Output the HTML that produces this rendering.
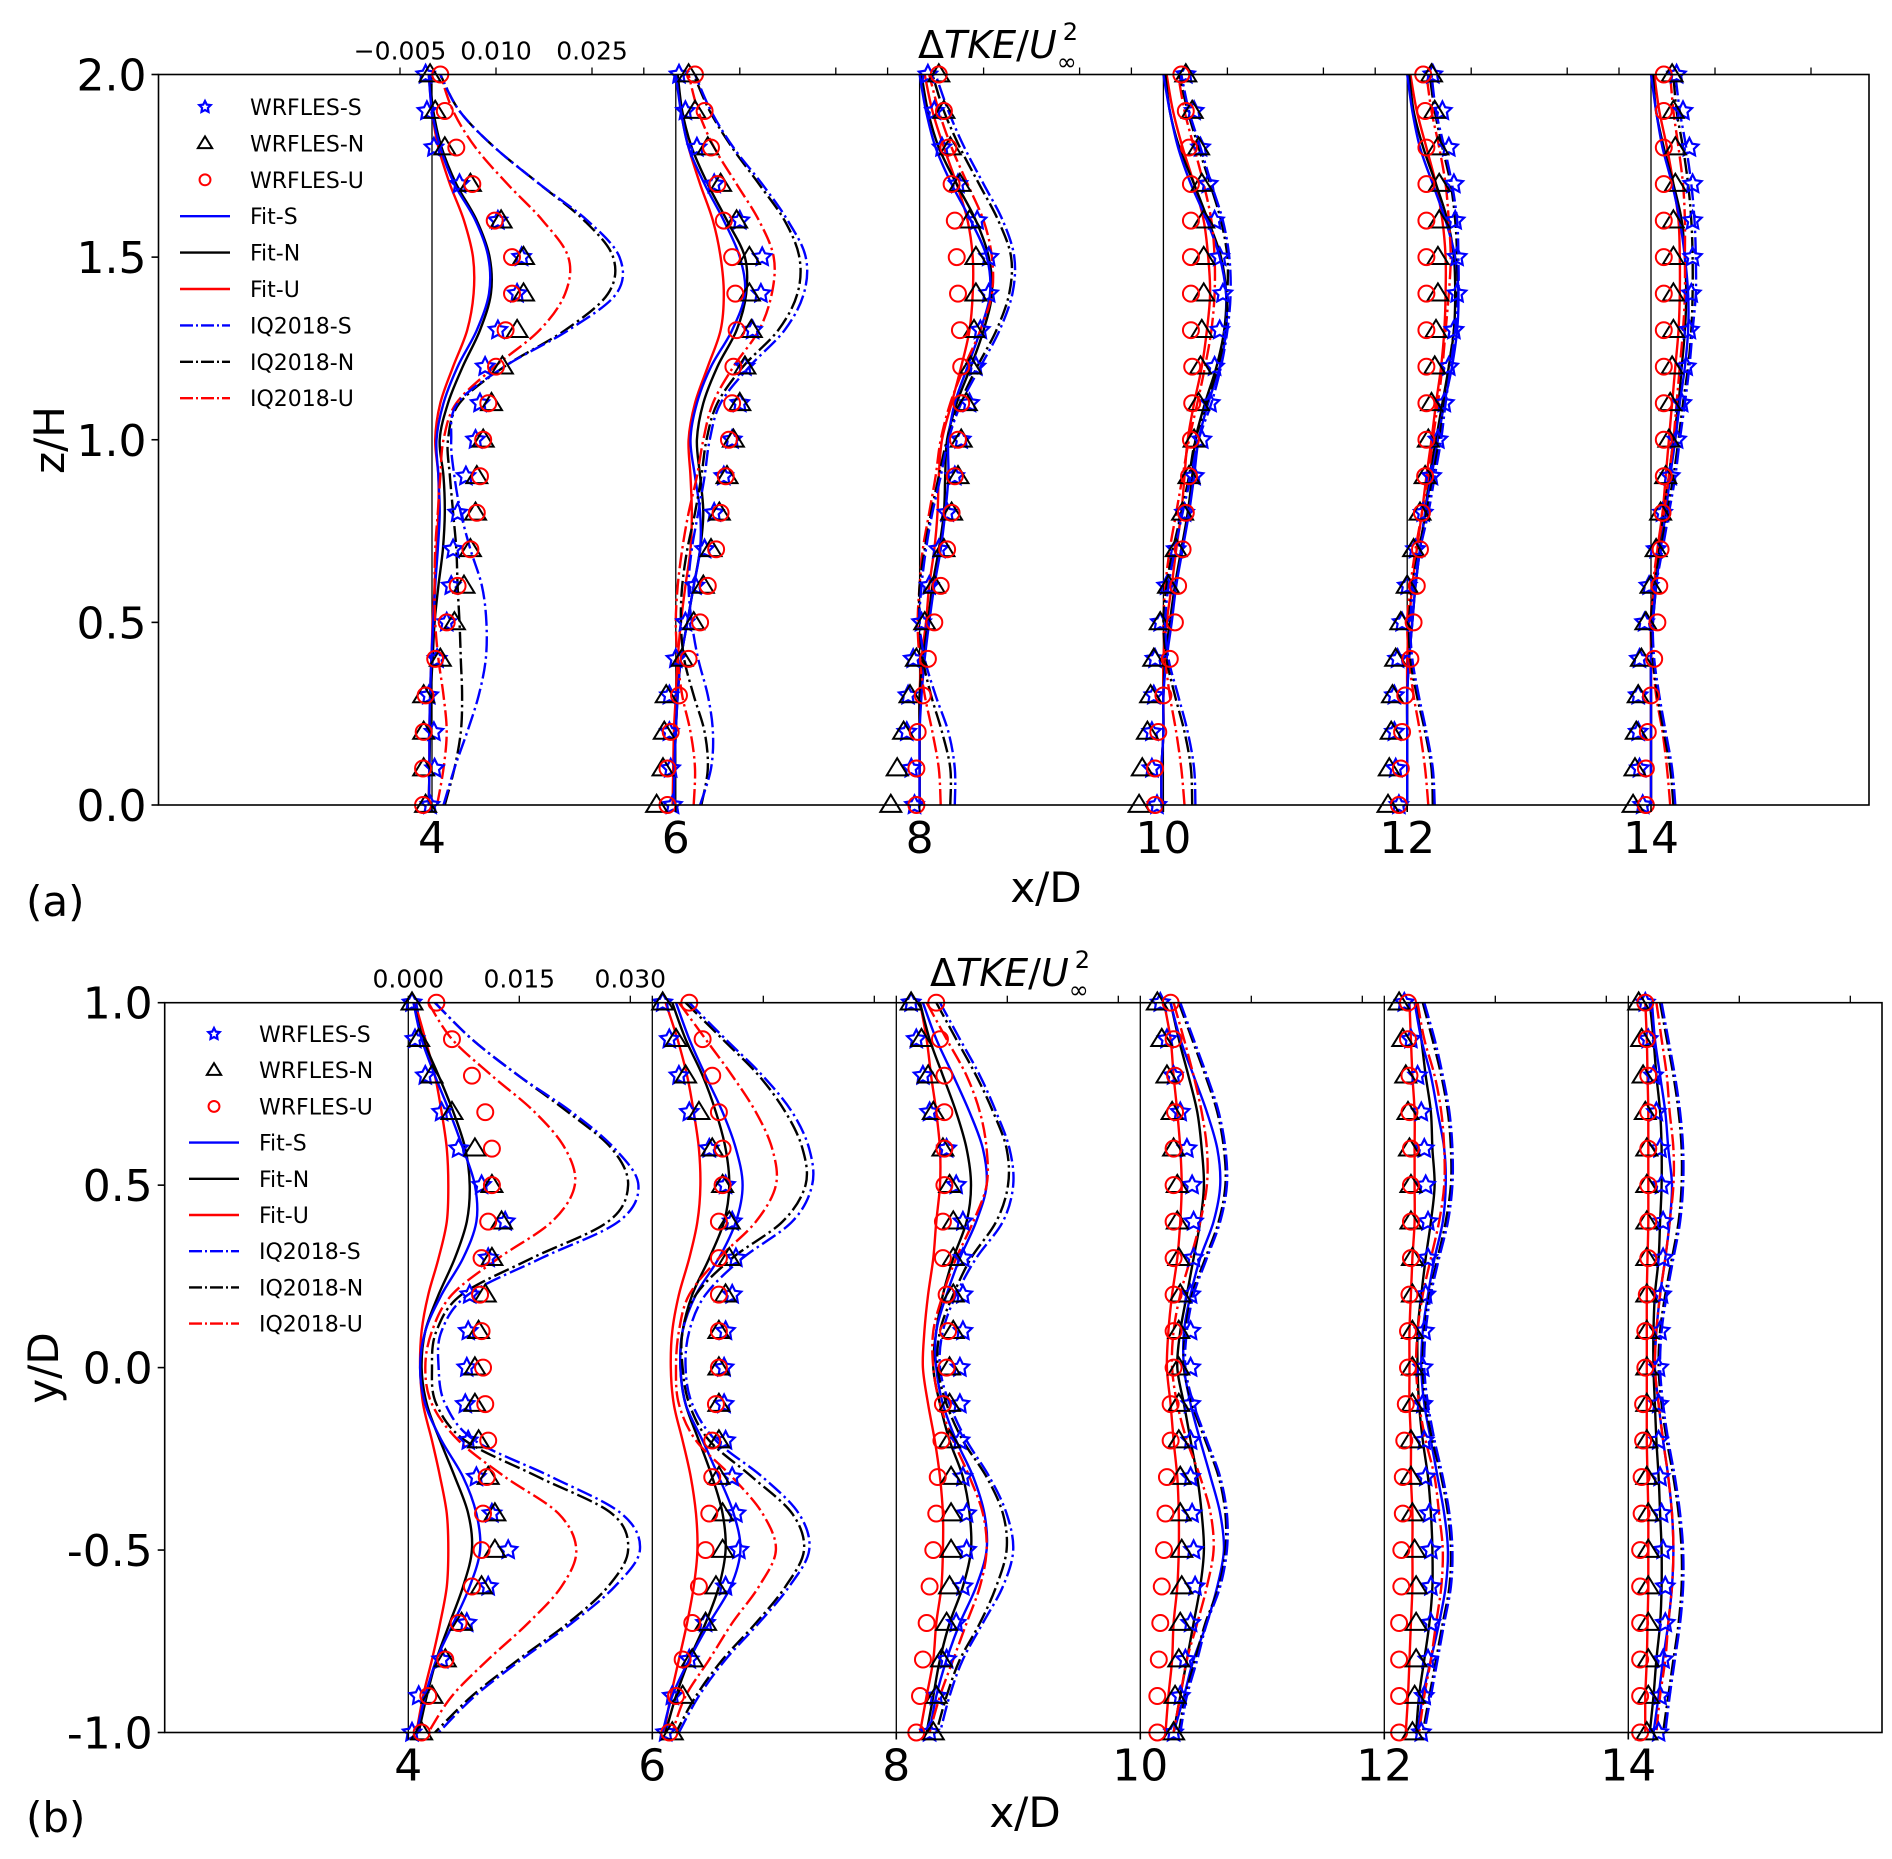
<!DOCTYPE html>
<html><head><meta charset="utf-8"><style>
html,body{margin:0;padding:0;background:#fff}
svg{display:block}
text{font-family:"DejaVu Sans","Liberation Sans",sans-serif;fill:#000}
</style></head><body>
<svg id="fig" xmlns="http://www.w3.org/2000/svg" width="1892" height="1859" viewBox="0 0 1892 1859"></svg>
<script>
// ---------- DATA (ΔTKE/U∞² in units of 1e-4) ----------
const zA = [0,0.1,0.2,0.3,0.4,0.5,0.6,0.7,0.8,0.9,1.0,1.1,1.2,1.3,1.4,1.5,1.6,1.7,1.8,1.9,2.0];
const yB = [1.0,0.9,0.8,0.7,0.6,0.5,0.4,0.3,0.2,0.1,0,-0.1,-0.2,-0.3,-0.4,-0.5,-0.6,-0.7,-0.8,-0.9,-1.0];
const stations = [4,6,8,10,12,14];
const seriesNames = ["WRFLES-S","WRFLES-N","WRFLES-U","Fit-S","Fit-N","Fit-U","IQ2018-S","IQ2018-N","IQ2018-U"];
const tickLabelsA = [-0.005,0.010,0.025];
const tickLabelsB = [0.000,0.015,0.030];
const yTicksA = [0.0,0.5,1.0,1.5,2.0];
const yTicksB = [-1.0,-0.5,0.0,0.5,1.0];

// Panel (a) x/D=4
const A4_S=[-3,4,3,-5,8,23,30,33,40,53,68,75,83,103,133,140,103,43,3,-8,-10];
const A4_N=[-10,-13,-13,-13,13,35,50,60,68,70,80,93,110,133,143,143,108,60,20,5,-3];
const A4_U=[-14,-14,-13,-10,5,23,40,60,70,75,80,88,100,115,125,125,98,63,38,20,13];
const A4_FS=[-5,-4,-4,-3,-1,2,5,9,12,10,7,18,40,70,89,88,68,35,13,0,-5];
const A4_FN=[-5,-4,-3,-2,1,4,10,17,20,18,12,25,48,75,92,90,70,38,15,2,-4];
const A4_FU=[-5,-4,-4,-3,-1,1,4,7,10,10,5,13,33,55,65,64,50,28,10,0,-5];
const A4_IS=[18,35,55,73,84,85,78,60,45,35,30,40,113,213,288,293,243,168,98,43,13];
const A4_IN=[20,35,45,47,45,43,40,38,33,28,25,43,113,208,275,283,238,168,98,43,13];
const A4_IU=[8,18,23,18,10,5,4,5,9,13,18,38,98,168,208,213,173,118,68,33,13];
// x/D=6
const A6_S=[-5,-8,-10,-10,0,15,30,45,60,75,88,100,108,120,133,135,100,60,33,15,5];
const A6_N=[-30,-20,-18,-15,10,28,43,55,68,80,90,100,108,118,115,115,95,70,50,30,20];
const A6_U=[-13,-13,-8,5,20,38,50,63,70,78,83,88,90,95,93,88,75,65,55,45,30];
const A6_FS=[-3,-2,0,3,8,18,28,38,38,30,23,33,55,88,108,100,75,45,20,8,0];
const A6_FN=[-3,-2,0,3,8,18,28,38,43,38,33,43,65,95,110,108,80,50,25,10,3];
const A6_FU=[-5,-4,-3,0,3,8,15,23,25,23,20,30,50,70,75,70,58,38,20,8,3];
const A6_IS=[38,55,58,50,35,25,20,25,35,45,53,70,115,170,200,203,175,135,90,55,30];
const A6_IN=[40,50,45,28,13,8,10,18,30,40,48,65,105,160,190,193,170,130,88,53,28];
const A6_IU=[28,30,23,10,3,0,3,10,20,33,43,58,90,130,150,153,130,95,60,35,20];
// x/D=8
const A8_S=[-8,-13,-20,-18,-10,3,15,30,43,55,65,78,88,95,108,108,90,60,35,23,13];
const A8_N=[-45,-35,-25,-15,-5,8,23,38,50,60,65,73,80,85,88,88,78,63,48,38,30];
const A8_U=[-5,-5,-3,5,13,23,33,43,50,55,60,65,65,63,60,58,55,50,45,38,30];
const A8_FS=[0,0,0,3,8,15,23,33,40,45,45,55,75,95,110,105,80,50,25,10,0];
const A8_FN=[0,0,0,0,5,13,20,30,38,40,43,58,80,100,113,108,88,58,30,13,3];
const A8_FU=[0,0,0,0,3,10,15,23,28,30,35,50,65,78,83,83,75,58,38,20,8];
const A8_IS=[55,55,45,25,8,0,3,10,20,33,45,65,95,125,145,148,130,100,70,45,25];
const A8_IN=[48,48,35,18,5,0,0,8,18,30,43,63,90,120,140,143,123,93,63,38,20];
const A8_IU=[33,30,20,8,0,-3,0,5,15,25,33,48,70,95,113,113,100,75,50,30,15];
// x/D=10
const A10_S=[-10,-18,-18,-15,-13,-5,5,20,33,48,60,73,80,88,93,88,80,70,58,48,35];
const A10_N=[-38,-33,-25,-20,-15,-5,8,20,30,40,48,55,58,60,63,63,63,60,55,45,35];
const A10_U=[-13,-13,-8,0,10,18,23,30,35,40,43,45,45,43,43,43,43,43,40,35,28];
const A10_FS=[-3,-3,0,0,5,13,20,30,40,48,55,70,88,98,98,88,68,43,23,10,0];
const A10_FN=[-3,-3,0,0,3,10,18,28,38,45,50,65,83,95,98,90,70,48,25,10,3];
const A10_FU=[-3,-3,0,0,0,5,13,20,28,33,38,48,60,68,73,70,63,48,30,15,5];
const A10_IS=[50,48,38,23,8,3,8,18,30,43,55,75,90,100,105,103,93,75,58,40,28];
const A10_IN=[45,43,33,18,5,0,5,15,28,40,50,68,85,98,100,100,90,73,55,38,25];
const A10_IU=[33,28,20,10,3,0,3,10,20,30,40,53,65,75,80,80,75,63,48,33,23];
// x/D=12
const A12_S=[-13,-18,-20,-20,-15,-8,0,13,25,38,48,58,65,73,78,78,75,73,65,55,40];
const A12_N=[-30,-28,-25,-23,-18,-10,0,10,20,28,33,38,43,45,48,48,50,50,48,43,38];
const A12_U=[-13,-10,-8,-3,5,10,15,20,23,28,30,30,30,30,30,30,30,30,30,28,25];
const A12_FS=[0,0,0,0,3,8,13,20,28,38,48,58,70,78,80,75,60,40,20,8,0];
const A12_FN=[0,0,0,0,3,8,13,20,28,35,45,55,65,73,75,73,63,45,25,10,3];
const A12_FU=[0,0,0,0,0,3,8,15,23,30,38,45,53,58,60,60,55,45,30,15,5];
const A12_IS=[43,40,30,18,8,5,10,20,33,43,53,60,68,75,80,80,78,70,58,45,38];
const A12_IN=[40,38,28,15,5,3,8,18,30,40,50,58,65,73,78,78,75,68,55,43,35];
const A12_IU=[33,28,20,10,3,0,5,13,23,33,40,48,55,60,65,68,65,60,50,38,30];
// x/D=14
const A14_S=[-13,-18,-20,-20,-18,-10,-3,8,18,30,40,48,55,60,63,65,65,65,60,50,40];
const A14_N=[-28,-25,-23,-20,-15,-8,0,8,15,23,28,30,33,35,35,35,35,38,38,35,33];
const A14_U=[-8,-8,-5,0,5,10,13,15,18,20,20,20,20,20,20,20,20,20,20,20,20];
const A14_FS=[0,0,0,0,0,3,8,15,23,30,38,45,53,58,58,53,45,33,18,8,0];
const A14_FN=[0,0,0,0,0,3,8,13,20,28,35,43,48,53,55,53,48,35,20,8,3];
const A14_FU=[0,0,0,0,0,0,5,10,18,23,28,33,38,43,45,45,43,35,25,13,5];
const A14_IS=[38,33,23,13,5,3,8,18,28,38,45,53,60,65,70,70,68,63,55,45,38];
const A14_IN=[35,30,20,10,3,0,5,15,25,35,43,50,58,63,65,65,63,58,50,40,35];
const A14_IU=[30,25,18,8,3,0,3,10,20,28,35,40,45,50,53,53,53,50,43,35,30];

// Panel (b) x/D=4  (ordered y = 1 ... -1)
const B4_S=[5,9,23,45,68,99,131,108,83,81,79,77,81,92,113,135,108,79,45,14,5];
const B4_N=[5,14,32,59,90,113,126,113,104,95,90,90,95,108,117,117,99,72,50,32,18];
const B4_U=[38,59,86,104,113,113,108,99,97,99,101,104,108,106,101,99,86,68,50,27,18];
const B4_FS=[7,18,36,56,74,90,92,74,45,23,16,23,45,74,92,97,83,61,38,23,11];
const B4_FN=[7,20,41,61,77,83,79,63,41,23,18,25,43,63,81,86,74,56,38,25,14];
const B4_FU=[9,23,36,45,52,54,52,41,27,18,16,20,32,43,52,54,52,43,32,20,11];
const B4_IS=[36,86,149,221,279,311,284,180,81,45,41,50,90,194,288,313,279,221,153,90,41];
const B4_IN=[36,86,149,216,275,297,270,167,72,38,32,38,77,176,275,297,270,216,149,86,36];
const B4_IU=[27,59,113,171,212,225,194,122,59,32,23,32,68,131,203,227,207,162,108,59,27];
// x/D=6
const B6_S=[14,23,36,50,77,99,108,113,108,99,97,97,99,108,113,117,99,72,50,27,18];
const B6_N=[14,32,45,63,81,95,104,104,99,90,90,90,90,90,95,95,86,72,54,41,27];
const B6_U=[50,68,81,90,95,95,90,90,90,90,90,86,81,81,77,72,63,54,41,32,23];
const B6_FS=[32,50,72,95,113,122,113,90,59,41,38,45,68,90,110,119,106,77,50,27,14];
const B6_FN=[27,45,68,86,99,104,97,77,54,41,38,45,63,81,95,99,90,72,50,32,18];
const B6_FU=[18,34,47,56,63,65,61,50,36,27,25,29,41,52,59,61,56,47,36,25,16];
const B6_IS=[50,99,149,189,212,216,189,122,72,50,45,54,86,149,198,212,185,144,99,63,36];
const B6_IN=[45,95,144,180,203,207,176,108,59,41,41,50,77,135,189,205,180,140,95,59,32];
const B6_IU=[36,72,108,140,162,167,140,90,50,36,32,36,59,108,149,167,144,108,77,45,27];
// x/D=8
const B8_S=[20,27,36,45,68,81,90,90,90,90,86,86,86,90,95,95,90,81,68,54,45];
const B8_N=[20,34,43,50,63,72,77,77,77,77,72,72,72,74,74,74,72,68,61,54,50];
const B8_U=[54,59,65,65,65,65,63,63,68,70,68,63,61,56,54,50,45,41,36,32,27];
const B8_FS=[36,54,77,99,117,122,108,86,68,54,54,63,81,104,119,122,108,86,68,54,45];
const B8_FN=[32,45,63,81,95,101,95,77,63,54,50,59,72,90,99,101,90,72,59,50,41];
const B8_FU=[32,41,47,54,59,59,54,50,43,38,36,43,52,59,63,63,61,54,50,41,32];
const B8_IS=[59,86,113,135,153,158,144,108,81,63,59,72,95,126,149,158,144,117,90,72,59];
const B8_IN=[54,81,108,131,149,151,135,101,77,59,56,68,90,122,144,149,135,113,86,68,54];
const B8_IU=[41,68,95,113,122,122,104,81,63,50,50,59,77,99,117,122,113,95,77,59,45];
// x/D=10
const B10_S=[27,36,45,54,63,70,72,72,68,68,68,68,68,68,70,72,74,68,61,54,45];
const B10_N=[23,29,36,43,45,50,50,52,54,52,52,52,52,54,54,56,56,54,52,47,45];
const B10_U=[41,45,47,47,45,45,45,45,45,45,45,41,41,36,34,32,29,27,25,23,23];
const B10_FS=[41,54,72,90,104,108,99,81,68,59,59,68,81,95,108,113,104,90,72,59,45];
const B10_FN=[41,52,65,77,83,86,81,72,63,54,50,59,68,77,83,86,81,72,63,54,45];
const B10_FU=[32,41,45,50,54,56,54,50,43,38,36,41,45,50,52,52,50,45,43,38,34];
const B10_IS=[54,72,90,106,115,117,108,90,72,63,61,72,90,108,117,117,108,90,77,63,54];
const B10_IN=[52,70,88,104,113,115,106,88,70,61,59,70,88,106,115,115,106,88,74,61,52];
const B10_IU=[45,59,72,83,90,90,81,68,54,45,43,50,63,81,95,99,90,77,63,54,45];
// x/D=12
const B12_S=[27,36,45,50,54,56,59,59,56,54,52,52,54,56,61,63,63,63,59,54,50];
const B12_N=[20,25,29,32,34,36,36,38,38,38,38,38,36,36,38,41,43,43,43,41,38];
const B12_U=[32,32,34,34,36,36,36,36,34,32,32,29,27,25,25,23,23,20,20,20,20];
const B12_FS=[41,50,63,72,81,83,79,68,59,52,50,54,63,72,81,86,83,74,63,52,45];
const B12_FN=[43,50,56,63,65,68,63,56,50,45,45,47,52,59,63,65,65,61,54,47,43];
const B12_FU=[34,36,38,41,41,41,41,38,36,34,34,34,36,36,38,38,38,36,34,32,29];
const B12_IS=[54,68,79,88,92,92,86,74,63,56,54,59,68,79,88,92,90,81,72,63,54];
const B12_IN=[52,65,77,86,90,90,83,72,61,54,52,56,65,77,86,90,88,79,70,61,52];
const B12_IU=[45,54,68,77,81,81,74,63,52,45,43,47,56,68,74,79,77,70,63,54,47];
// x/D=14
const B14_S=[23,27,34,38,43,45,47,47,45,43,41,41,41,43,45,47,50,50,47,43,41];
const B14_N=[14,18,20,23,25,25,25,25,25,25,25,25,25,25,27,27,27,27,27,27,25];
const B14_U=[23,25,27,27,27,27,27,27,25,23,23,20,20,18,18,16,16,16,16,16,16];
const B14_FS=[32,36,43,50,54,59,56,50,43,38,36,41,47,54,59,61,59,54,47,41,34];
const B14_FN=[29,34,38,43,45,45,43,41,36,34,34,36,38,41,43,45,45,43,38,34,29];
const B14_FU=[23,25,26,27,27,27,27,26,25,25,25,25,25,26,27,27,27,26,25,23,23];
const B14_IS=[45,54,63,70,74,74,70,61,52,45,43,47,54,63,70,74,74,70,63,56,50];
const B14_IN=[43,52,61,68,72,72,68,59,50,43,41,45,52,61,68,72,72,68,61,54,47];
const B14_IU=[38,45,52,56,61,61,56,50,43,38,36,41,47,54,59,61,59,54,50,43,38];

const dataA = {4:[A4_S,A4_N,A4_U,A4_FS,A4_FN,A4_FU,A4_IS,A4_IN,A4_IU],6:[A6_S,A6_N,A6_U,A6_FS,A6_FN,A6_FU,A6_IS,A6_IN,A6_IU],8:[A8_S,A8_N,A8_U,A8_FS,A8_FN,A8_FU,A8_IS,A8_IN,A8_IU],10:[A10_S,A10_N,A10_U,A10_FS,A10_FN,A10_FU,A10_IS,A10_IN,A10_IU],12:[A12_S,A12_N,A12_U,A12_FS,A12_FN,A12_FU,A12_IS,A12_IN,A12_IU],14:[A14_S,A14_N,A14_U,A14_FS,A14_FN,A14_FU,A14_IS,A14_IN,A14_IU]};
const dataB = {4:[B4_S,B4_N,B4_U,B4_FS,B4_FN,B4_FU,B4_IS,B4_IN,B4_IU],6:[B6_S,B6_N,B6_U,B6_FS,B6_FN,B6_FU,B6_IS,B6_IN,B6_IU],8:[B8_S,B8_N,B8_U,B8_FS,B8_FN,B8_FU,B8_IS,B8_IN,B8_IU],10:[B10_S,B10_N,B10_U,B10_FS,B10_FN,B10_FU,B10_IS,B10_IN,B10_IU],12:[B12_S,B12_N,B12_U,B12_FS,B12_FN,B12_FU,B12_IS,B12_IN,B12_IU],14:[B14_S,B14_N,B14_U,B14_FS,B14_FN,B14_FU,B14_IS,B14_IN,B14_IU]};

// ---------- RENDERING ----------
const NS="http://www.w3.org/2000/svg";
const svg=document.getElementById('fig');
function mk(tag,attrs,parent){const e=document.createElementNS(NS,tag);for(const k in attrs)e.setAttribute(k,attrs[k]);(parent||svg).appendChild(e);return e;}
const kinds=['star','tri','circ','line','line','line','dd','dd','dd'];
const colors=['#0000ff','#000','#ff0000','#0000ff','#000','#ff0000','#0000ff','#000','#ff0000'];
const DASH="16,4,2.5,4";

function smoothPath(pts){
  let d="M"+pts[0][0].toFixed(1)+","+pts[0][1].toFixed(1);
  for(let i=0;i<pts.length-1;i++){
    const p0=pts[i-1]||pts[i],p1=pts[i],p2=pts[i+1],p3=pts[i+2]||p2;
    const c1=[p1[0]+(p2[0]-p0[0])/6,p1[1]+(p2[1]-p0[1])/6];
    const c2=[p2[0]-(p3[0]-p1[0])/6,p2[1]-(p3[1]-p1[1])/6];
    d+="C"+c1[0].toFixed(1)+","+c1[1].toFixed(1)+" "+c2[0].toFixed(1)+","+c2[1].toFixed(1)+" "+p2[0].toFixed(1)+","+p2[1].toFixed(1);
  }
  return d;
}
function starPath(cx,cy,r){let d="";for(let i=0;i<10;i++){const rr=i%2?r*0.5:r;const a=-Math.PI/2+i*Math.PI/5;d+=(i?"L":"M")+(cx+rr*Math.cos(a)).toFixed(1)+","+(cy+rr*Math.sin(a)).toFixed(1);}return d+"Z";}
function drawMarker(kind,x,y,g,sz){
  let e;
  if(kind==='star'){e=mk('path',{d:starPath(x,y,sz*0.5),fill:'none',stroke:'#0000ff','stroke-width':2.2},g);}
  else if(kind==='tri'){const h=sz*0.9;e=mk('path',{d:`M${x},${y-h*0.6}L${x+sz*0.55},${y+h*0.4}L${x-sz*0.55},${y+h*0.4}Z`,fill:'none',stroke:'#000','stroke-width':2},g);}
  else {e=mk('circle',{cx:x,cy:y,r:sz*0.42,fill:'none',stroke:'#ff0000','stroke-width':2},g);}
  return e;
}

function panel(P){
  const g=mk('g',{});
  
  
  const xS=x=>P.x0+(x-4)*P.ux;
  const yS=v=>P.bottom-(v-P.vmin)/(P.vmax-P.vmin)*(P.bottom-P.top);
  const kS=v=>v*P.k;
  const clipId='clip'+P.id;
  const cp=mk('clipPath',{id:clipId},g);
  mk('rect',{x:P.left,y:P.top,width:P.right-P.left,height:P.bottom-P.top},cp);
  stations.forEach(s=>{const l=mk('line',{x1:xS(s),x2:xS(s),y1:P.top,y2:P.bottom,stroke:'#000','stroke-width':1.3},g);
    
    });
  const plot=mk('g',{'clip-path':`url(#${clipId})`},g);
  const mplot=mk('g',{},g);
  stations.forEach(s=>{
    const sets=P.data[s];
    [0,1,2].forEach(si=>{
      const mg=mk('g',{},mplot);
      
      
      sets[si].forEach((v,i)=>{drawMarker(kinds[si],xS(s)+kS(v),yS(P.coord[i]),mg,P.msz);});
    });
    [5,4,3,8,7,6].forEach(si=>{
      const pts=sets[si].map((v,i)=>[xS(s)+kS(v),yS(P.coord[i])]);
      const attrs={d:smoothPath(pts),fill:'none',stroke:colors[si],'stroke-width':2.4};
      if(kinds[si]==='dd')attrs['stroke-dasharray']=DASH;
      const p=mk('path',attrs,plot);
      
      
    });
  });
  const fr=mk('rect',{x:P.left,y:P.top,width:P.right-P.left,height:P.bottom-P.top,fill:'none',stroke:'#000','stroke-width':1.6},g);
  
  
  P.yticks.forEach(v=>{const y=yS(v);mk('line',{x1:P.left-7,x2:P.left,y1:y,y2:y,stroke:'#000','stroke-width':1.6},g);
    const t=mk('text',{x:P.left-12,y:y+16,'text-anchor':'end','font-size':44},g);t.textContent=v.toFixed(1);
    
    });
  stations.forEach(s=>{const x=xS(s);mk('line',{x1:x,x2:x,y1:P.bottom,y2:P.bottom+7,stroke:'#000','stroke-width':1.6},g);
    const t=mk('text',{x:x,y:P.bottom+48,'text-anchor':'middle','font-size':44},g);t.textContent=s;
    
    });
  stations.forEach((s,si)=>{P.topTicks.forEach(tv=>{const x=xS(s)+kS(tv*1e4);
    if(x>P.right)return;
    mk('line',{x1:x,x2:x,y1:P.top-7,y2:P.top,stroke:'#000','stroke-width':1.3},g);
    if(si===0){const t=mk('text',{x:x,y:P.top-15,'text-anchor':'middle','font-size':25},g);
      t.textContent=(tv<0?'\u2212':'')+Math.abs(tv).toFixed(3);
      
      }
  });});
  const lg=mk('g',{},g);
  
  
  seriesNames.forEach((nm,i)=>{
    const y=P.legY+i*P.legDy;
    const row=mk('g',{},lg);
    
    
    if(i<3)drawMarker(kinds[i],P.legX+25,y,row,i===0?12:13);
    else{const a={x1:P.legX,x2:P.legX+50,y1:y,y2:y,stroke:colors[i],'stroke-width':2.4};if(kinds[i]==='dd')a['stroke-dasharray']="13,3,2,3";mk('line',a,row);}
    const t=mk('text',{x:P.legX+70,y:y+8,'font-size':22},row);t.textContent=nm;
  });
}

panel({id:'a',name:'panel-a',left:158.5,right:1869,top:74.5,bottom:805,x0:432,ux:121.9,vmin:0,vmax:2,k:0.64,
  coord:zA,data:dataA,yticks:yTicksA,topTicks:tickLabelsA,msz:19,legX:180,legY:107,legDy:36.4});
panel({id:'b',name:'panel-b',left:164.7,right:1882,top:1002.7,bottom:1732.5,x0:408.3,ux:122,vmin:-1,vmax:1,k:0.74,
  coord:yB,data:dataB,yticks:yTicksB,topTicks:tickLabelsB,msz:19,legX:189,legY:1034,legDy:36.2});

function txt(s,attrs,name){const t=mk('text',attrs);t.innerHTML=s;return t;}
txt('Δ<tspan font-style="italic">TKE</tspan>/<tspan font-style="italic">U</tspan><tspan font-size="24" dy="12">∞</tspan><tspan font-size="24" dy="-30" dx="-14">2</tspan>',{x:918,y:58,'font-size':38},'title-a');
txt('Δ<tspan font-style="italic">TKE</tspan>/<tspan font-style="italic">U</tspan><tspan font-size="24" dy="12">∞</tspan><tspan font-size="24" dy="-30" dx="-14">2</tspan>',{x:930,y:986,'font-size':38},'title-b');
txt('x/D',{x:1046,y:902,'font-size':42,'text-anchor':'middle'},'x-axis-title-a');
txt('x/D',{x:1025,y:1827,'font-size':42,'text-anchor':'middle'},'x-axis-title-b');
txt('z/H',{x:0,y:0,'font-size':42,'text-anchor':'middle',transform:'translate(64,440) rotate(-90)'},'y-axis-title-a');
txt('y/D',{x:0,y:0,'font-size':42,'text-anchor':'middle',transform:'translate(58,1368) rotate(-90)'},'y-axis-title-b');
txt('(a)',{x:26,y:916,'font-size':42},'panel-label-a');
txt('(b)',{x:26,y:1832,'font-size':42},'panel-label-b');
</script>
</body></html>
